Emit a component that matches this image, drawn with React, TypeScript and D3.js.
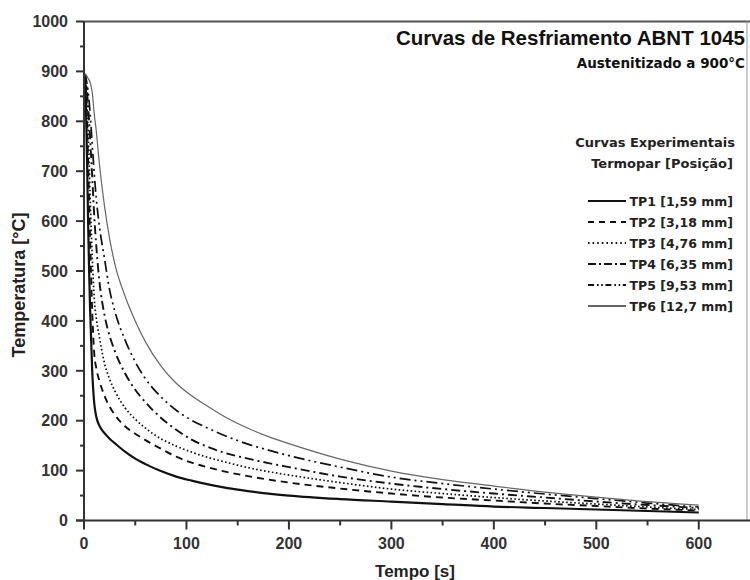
import React from "react";
import * as d3 from "d3";

const times = [0, 1, 2, 3, 4, 5, 6, 8, 10, 12, 15, 20, 25, 30, 40, 50, 60, 75, 90, 105, 120, 140, 160, 180, 200, 250, 300, 350, 400, 450, 500, 550, 600];

const tp1 = [895, 885, 820, 720, 600, 500, 420, 300, 235, 208, 190, 175, 164, 155, 138, 124, 113, 99, 88, 80, 73, 65, 59, 54, 50, 43, 38, 33, 28, 25, 22, 19, 16];
const tp2 = [895, 888, 860, 800, 720, 640, 560, 420, 335, 305, 280, 250, 228, 212, 189, 174, 161, 144, 128, 116, 107, 97, 89, 82, 76, 64, 54, 46, 40, 34, 29, 24, 20];
const tp3 = [895, 890, 870, 830, 780, 720, 650, 530, 445, 405, 368, 315, 283, 260, 226, 203, 185, 164, 149, 137, 127, 116, 106, 98, 91, 76, 63, 54, 46, 39, 33, 27, 22];
const tp4 = [895, 892, 880, 860, 830, 800, 765, 690, 610, 550, 480, 412, 370, 340, 295, 262, 237, 206, 182, 162, 148, 134, 124, 115, 107, 88, 74, 63, 54, 46, 38, 31, 25];
const tp5 = [895, 894, 886, 874, 860, 840, 815, 755, 695, 645, 590, 525, 462, 420, 362, 318, 284, 248, 221, 201, 186, 168, 153, 141, 130, 107, 87, 74, 63, 53, 44, 35, 27];
const tp6 = [895, 894, 893, 890, 886, 883, 878, 858, 815, 780, 715, 630, 565, 515, 450, 400, 358, 310, 275, 250, 230, 205, 185, 168, 154, 123, 99, 82, 69, 57, 47, 38, 31];

const seriesNames = ["TP1 [1,59 mm]", "TP2 [3,18 mm]", "TP3 [4,76 mm]", "TP4 [6,35 mm]", "TP5 [9,53 mm]", "TP6 [12,7 mm]"];
const seriesValues = [tp1, tp2, tp3, tp4, tp5, tp6];

const xMajorTicks = [0, 100, 200, 300, 400, 500, 600];
const xMinorTicks = [50, 150, 250, 350, 450, 550];
const yMajorTicks = [0, 100, 200, 300, 400, 500, 600, 700, 800, 900, 1000];
const yMinorTicks = [50, 150, 250, 350, 450, 550, 650, 750, 850, 950];

const styles = [
  { stroke: "#111", width: 2.2, dash: "" },
  { stroke: "#111", width: 1.9, dash: "7,5" },
  { stroke: "#111", width: 1.7, dash: "1.6,2.4" },
  { stroke: "#111", width: 1.9, dash: "9,4,2,4" },
  { stroke: "#111", width: 1.7, dash: "11,4,2,4,2,4" },
  { stroke: "#666", width: 1.2, dash: "" },
];

const legendDash = ["", "6,5", "1.6,3", "8,3,2,3", "6,3,1.6,2.6,1.6,2.6", ""];

export default function App() {
  const x = d3.scaleLinear().domain([0, 650]).range([84, 750]);
  const y = d3.scaleLinear().domain([0, 1000]).range([520.5, 21.5]);
  const line = d3
    .line<number>()
    .x((_, i) => x(times[i]))
    .y((d) => y(d))
    .curve(d3.curveMonotoneX);

  const axisColor = "#333";
  const tickFont = "'Liberation Sans', Arial, sans-serif";
  const legFont = "'DejaVu Sans', Verdana, sans-serif";

  return (
    <svg width={750} height={580} style={{ position: "absolute", left: 0, top: 0, background: "#fff" }}>
      <rect x={0} y={0} width={750} height={580} fill="#fff" />
      <line x1={x(0)} x2={750} y1={y(1000)} y2={y(1000)} stroke="#555" strokeWidth={2} />
      <line x1={747} x2={747} y1={y(1000)} y2={y(0)} stroke="#999" strokeWidth={1} />

      {seriesValues.map((vals, i) => (
        <path
          key={i}
          d={line(vals) || ""}
          fill="none"
          stroke={styles[i].stroke}
          strokeWidth={styles[i].width}
          strokeDasharray={styles[i].dash || undefined}
        />
      ))}

      <line x1={x(0)} x2={x(0)} y1={y(1000)} y2={y(0) + 8} stroke={axisColor} strokeWidth={2} />
      <line x1={x(0) - 8} x2={750} y1={y(0)} y2={y(0)} stroke={axisColor} strokeWidth={2} />
      {yMajorTicks.map((t) => (
        <g key={"ym" + t}>
          <line x1={x(0) - 8} x2={x(0)} y1={y(t)} y2={y(t)} stroke={axisColor} strokeWidth={2} />
          <text x={68} y={y(t)} dy="0.36em" textAnchor="end" fontFamily={tickFont} fontWeight="bold" fontSize={16} fill="#333">
            {t}
          </text>
        </g>
      ))}
      {yMinorTicks.map((t) => (
        <line key={"yn" + t} x1={x(0) - 4} x2={x(0)} y1={y(t)} y2={y(t)} stroke={axisColor} strokeWidth={2} />
      ))}
      {xMajorTicks.map((t) => (
        <g key={"xm" + t}>
          <line x1={x(t)} x2={x(t)} y1={y(0)} y2={y(0) + 9} stroke={axisColor} strokeWidth={2} />
          <text x={x(t)} y={549} textAnchor="middle" fontFamily={tickFont} fontWeight="bold" fontSize={16} fill="#333">
            {t}
          </text>
        </g>
      ))}
      {xMinorTicks.map((t) => (
        <line key={"xn" + t} x1={x(t)} x2={x(t)} y1={y(0)} y2={y(0) + 5} stroke={axisColor} strokeWidth={2} />
      ))}

      <text x={415} y={577} textAnchor="middle" fontFamily={tickFont} fontWeight="bold" fontSize={17} fill="#222">
        Tempo [s]
      </text>
      <text
        transform="translate(25,285) rotate(-90)"
        textAnchor="middle"
        fontFamily={tickFont}
        fontWeight="bold"
        fontSize={18}
        fill="#222"
      >
        Temperatura [°C]
      </text>

      <text x={745} y={45} textAnchor="end" fontFamily={tickFont} fontWeight="bold" fontSize={20.5} fill="#111">
        Curvas de Resfriamento ABNT 1045
      </text>
      <text x={745} y={68} textAnchor="end" fontFamily={legFont} fontWeight="bold" fontSize={13.5} fill="#111">
        Austenitizado a 900°C
      </text>

      <text x={735} y={147} textAnchor="end" fontFamily={legFont} fontWeight="bold" fontSize={13} fill="#222">
        Curvas Experimentais
      </text>
      <text x={733} y={168} textAnchor="end" fontFamily={legFont} fontWeight="bold" fontSize={13} fill="#222">
        Termopar [Posição]
      </text>
      {seriesNames.map((name, i) => {
        const by = 206 + i * 21;
        return (
          <g key={name}>
            <line
              x1={588}
              x2={626}
              y1={by - 5}
              y2={by - 5}
              stroke={i === 5 ? "#333" : "#111"}
              strokeWidth={i === 5 ? 1.6 : 2}
              strokeDasharray={legendDash[i] || undefined}
            />
            <text x={733} y={by} textAnchor="end" fontFamily={legFont} fontWeight="bold" fontSize={12.5} fill="#222">
              {name}
            </text>
          </g>
        );
      })}
    </svg>
  );
}
